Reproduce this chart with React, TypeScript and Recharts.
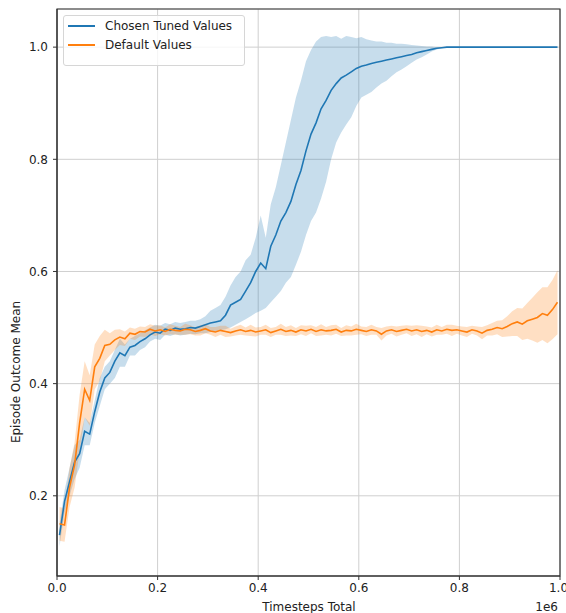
import {
  ComposedChart,
  Area,
  Line,
  XAxis,
  YAxis,
  CartesianGrid,
  ReferenceArea,
  Label,
} from 'recharts';

const BLUE = '#1f77b4';
const ORANGE = '#ff7f0e';
const FONT = 'DejaVu Sans, Verdana, sans-serif';

// evaluation points every 10k timesteps
const timesteps = Array.from({ length: 100 }, (_, i) => 5000 + i * 10000);

const blueMean = [
  0.13, 0.19, 0.225, 0.26, 0.275, 0.315, 0.31, 0.35, 0.385, 0.41,
  0.42, 0.44, 0.455, 0.45, 0.465, 0.468, 0.475, 0.48, 0.487, 0.492,
  0.49, 0.497, 0.495, 0.499, 0.497, 0.498, 0.5, 0.499, 0.502, 0.505,
  0.508, 0.51, 0.512, 0.522, 0.54, 0.545, 0.55, 0.565, 0.58, 0.6,
  0.615, 0.605, 0.645, 0.665, 0.69, 0.705, 0.725, 0.755, 0.78, 0.815,
  0.845, 0.865, 0.89, 0.905, 0.923, 0.935, 0.945, 0.95, 0.956, 0.962,
  0.966, 0.968, 0.971, 0.973, 0.975, 0.977, 0.979, 0.981, 0.983, 0.985,
  0.987, 0.99, 0.992, 0.994, 0.996, 0.998, 0.999, 1, 1, 1,
  1, 1, 1, 1, 1, 1, 1, 1, 1, 1,
  1, 1, 1, 1, 1, 1, 1, 1, 1, 1,
];

const blueLower = [
  0.11, 0.17, 0.2, 0.23, 0.25, 0.29, 0.29, 0.33, 0.36, 0.39,
  0.4, 0.41, 0.43, 0.43, 0.45, 0.45, 0.46, 0.465, 0.475, 0.48,
  0.478, 0.487, 0.485, 0.488, 0.486, 0.487, 0.489, 0.488, 0.49, 0.49,
  0.492, 0.494, 0.495, 0.497, 0.5, 0.505, 0.51, 0.515, 0.52, 0.526,
  0.53, 0.535, 0.545, 0.555, 0.565, 0.58, 0.59, 0.612, 0.635, 0.665,
  0.69, 0.705, 0.73, 0.76, 0.8, 0.83, 0.848, 0.862, 0.875, 0.895,
  0.91, 0.915, 0.92, 0.928, 0.935, 0.94, 0.948, 0.955, 0.96, 0.966,
  0.972, 0.978, 0.982, 0.987, 0.992, 0.996, 0.998, 1, 1, 1,
  1, 1, 1, 1, 1, 1, 1, 1, 1, 1,
  1, 1, 1, 1, 1, 1, 1, 1, 1, 1,
];

const blueUpper = [
  0.15, 0.21, 0.25, 0.29, 0.3, 0.34, 0.33, 0.37, 0.41, 0.43,
  0.44, 0.46, 0.48, 0.47, 0.48, 0.485, 0.49, 0.495, 0.5, 0.505,
  0.503, 0.508, 0.506, 0.51, 0.508, 0.51, 0.512, 0.512, 0.515, 0.52,
  0.53, 0.535, 0.54, 0.555, 0.575, 0.59, 0.6, 0.62, 0.63, 0.66,
  0.7, 0.66, 0.72, 0.75, 0.79, 0.83, 0.87, 0.91, 0.94, 0.975,
  0.995, 1.01, 1.018, 1.02, 1.018, 1.02, 1.015, 1.02, 1.018, 1.016,
  1.018, 1.014, 1.012, 1.01, 1.01, 1.008, 1.008, 1.006, 1.006, 1.005,
  1.004, 1.003, 1.002, 1.001, 1.001, 1, 1, 1, 1, 1,
  1, 1, 1, 1, 1, 1, 1, 1, 1, 1,
  1, 1, 1, 1, 1, 1, 1, 1, 1, 1,
];

const orangeMean = [
  0.15, 0.148, 0.215, 0.255, 0.33, 0.39, 0.37, 0.43, 0.445, 0.468,
  0.47, 0.478, 0.483, 0.48, 0.49, 0.488, 0.493, 0.492, 0.497, 0.494,
  0.496, 0.493, 0.497, 0.495, 0.494, 0.497, 0.496, 0.493, 0.495, 0.498,
  0.494, 0.492, 0.495, 0.493, 0.491, 0.494, 0.496, 0.493, 0.495, 0.492,
  0.494, 0.496, 0.491, 0.494, 0.497, 0.493, 0.495, 0.492, 0.496, 0.494,
  0.497, 0.493, 0.496, 0.494, 0.495, 0.497, 0.492, 0.495, 0.494, 0.497,
  0.495, 0.493, 0.496, 0.494, 0.488, 0.494, 0.496, 0.493, 0.495, 0.497,
  0.494, 0.496, 0.493, 0.495, 0.492, 0.496, 0.494, 0.497, 0.495, 0.496,
  0.494, 0.492, 0.496, 0.494, 0.49, 0.495, 0.497, 0.5, 0.498, 0.502,
  0.507, 0.51, 0.506, 0.512, 0.515, 0.518, 0.525, 0.522, 0.532, 0.545,
];

// half width of the shaded band around the orange mean
const orangeSpread = [
  0.03, 0.03, 0.035, 0.04, 0.05, 0.05, 0.045, 0.04, 0.04, 0.028,
  0.02, 0.018, 0.014, 0.013, 0.01, 0.01, 0.009, 0.009, 0.009, 0.009,
  0.008, 0.007, 0.009, 0.008, 0.007, 0.01, 0.008, 0.007, 0.009, 0.008,
  0.007, 0.009, 0.008, 0.01, 0.007, 0.008, 0.009, 0.007, 0.01, 0.008,
  0.007, 0.009, 0.008, 0.007, 0.01, 0.008, 0.009, 0.007, 0.008, 0.009,
  0.007, 0.008, 0.01, 0.007, 0.009, 0.008, 0.007, 0.009, 0.008, 0.01,
  0.007, 0.008, 0.009, 0.007, 0.011, 0.008, 0.007, 0.009, 0.008, 0.007,
  0.009, 0.008, 0.01, 0.007, 0.008, 0.009, 0.007, 0.008, 0.01, 0.007,
  0.008, 0.009, 0.007, 0.008, 0.011, 0.009, 0.011, 0.012, 0.015, 0.018,
  0.022, 0.025, 0.028, 0.032, 0.038, 0.045, 0.047, 0.05, 0.053, 0.057,
];

const xTicks = [0, 200000, 400000, 600000, 800000, 1000000];
const yTicks = [0.2, 0.4, 0.6, 0.8, 1.0];
const xDomain = [0, 1000000];
const yDomain = [0.057, 1.068];

const legendItems = [
  { name: 'Chosen Tuned Values', color: BLUE },
  { name: 'Default Values', color: ORANGE },
];

const data = timesteps.map((t, i) => ({
  t,
  blue: blueMean[i],
  blueBand: [blueLower[i], blueUpper[i]],
  orange: orangeMean[i],
  orangeBand: [orangeMean[i] - orangeSpread[i], orangeMean[i] + orangeSpread[i]],
}));

function LegendBox() {
  return (
    <div
      style={{
        position: 'absolute',
        left: 63,
        top: 15,
        width: 182,
        height: 51,
        boxSizing: 'border-box',
        border: '1px solid #d6d6d6',
        borderRadius: 3,
        background: 'rgba(255,255,255,0.8)',
        fontFamily: FONT,
        fontSize: 12,
        color: '#222',
      }}
    >
      {legendItems.map((item, i) => (
        <div
          key={item.name}
          style={{ position: 'absolute', left: 4, top: 3 + i * 19, height: 14, display: 'flex', alignItems: 'center' }}
        >
          <span style={{ display: 'inline-block', width: 27, height: 2, background: item.color }} />
          <span style={{ marginLeft: 10, lineHeight: '14px', whiteSpace: 'nowrap' }}>{item.name}</span>
        </div>
      ))}
    </div>
  );
}

export default function App() {
  const tickStyle = { fontSize: 12, fill: '#222', fontFamily: FONT };
  return (
    <div style={{ position: 'absolute', left: 0, top: 0, width: 566, height: 613, background: '#fff' }}>
      <ComposedChart width={566} height={613} data={data} margin={{ top: 9, right: 6, bottom: 7, left: 12 }}>
        <CartesianGrid stroke="#cfcfcf" strokeWidth={1} verticalPoints={undefined} />
        <XAxis
          dataKey="t"
          type="number"
          domain={xDomain}
          ticks={xTicks}
          height={30}
          tickFormatter={(v) => (v / 1e6).toFixed(1)}
          tick={tickStyle}
          tickSize={4}
          tickMargin={3}
          tickLine={{ stroke: '#333' }}
          axisLine={{ stroke: '#333' }}
        >
          <Label
            content={() => (
              <g style={{ fontFamily: FONT, fontSize: 12, fill: '#222' }}>
                <text x={309} y={611} textAnchor="middle">Timesteps Total</text>
                <text x={558} y={611} textAnchor="end">1e6</text>
              </g>
            )}
          />
        </XAxis>
        <YAxis
          type="number"
          domain={yDomain}
          ticks={yTicks}
          allowDataOverflow
          width={45}
          tickFormatter={(v) => v.toFixed(1)}
          tick={tickStyle}
          tickSize={4}
          tickMargin={5}
          tickLine={{ stroke: '#333' }}
          axisLine={{ stroke: '#333' }}
        >
          <Label
            content={() => (
              <text
                x={20}
                y={372}
                transform="rotate(-90 20 372)"
                textAnchor="middle"
                style={{ fontFamily: FONT, fontSize: 12, fill: '#222' }}
              >
                Episode Outcome Mean
              </text>
            )}
          />
        </YAxis>
        <Area
          type="linear"
          dataKey="blueBand"
          stroke="none"
          fill={BLUE}
          fillOpacity={0.25}
          isAnimationActive={false}
        />
        <Line type="linear" dataKey="blue" stroke={BLUE} strokeWidth={1.6} dot={false} isAnimationActive={false} />
        <Area
          type="linear"
          dataKey="orangeBand"
          stroke="none"
          fill={ORANGE}
          fillOpacity={0.25}
          isAnimationActive={false}
        />
        <Line type="linear" dataKey="orange" stroke={ORANGE} strokeWidth={1.6} dot={false} isAnimationActive={false} />
        <ReferenceArea
          x1={xDomain[0]}
          x2={xDomain[1]}
          y1={yDomain[0]}
          y2={yDomain[1]}
          fill="none"
          stroke="#333"
          strokeWidth={1.2}
          ifOverflow="visible"
        />
      </ComposedChart>
      <LegendBox />
    </div>
  );
}
